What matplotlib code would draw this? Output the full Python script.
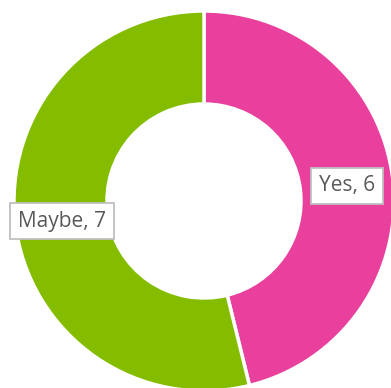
import matplotlib
matplotlib.use("Agg")
import matplotlib.pyplot as plt

categories = ["Yes", "Maybe"]
values = [6, 7]
colors = ["#E8409C", "#84BC00"]

W, H = 391, 388
fig = plt.figure(figsize=(W / 100, H / 100), dpi=100)
ax = fig.add_axes([0, 0, 1, 1])
ax.set_xlim(0, W)
ax.set_ylim(0, H)
ax.set_aspect("equal")
ax.axis("off")

cx, cy, r = 204, H - 201, 190
wedges, _ = ax.pie(values, colors=colors, startangle=90, counterclock=False,
                   center=(cx, cy), radius=r,
                   wedgeprops=dict(width=93, edgecolor="white", linewidth=2.5))
ax.set_xlim(0, W)
ax.set_ylim(0, H)

label_pos = [(347, H - 186), (62, H - 221)]
for cat, val, (x, y) in zip(categories, values, label_pos):
    ax.text(x, y, f"{cat}, {val}", ha="center", va="center", fontsize=15,
            family="Open Sans", color="#595959",
            bbox=dict(boxstyle="square,pad=0.38", fc="white", ec="#BFBFBF", lw=1.3))

fig.savefig("out.png", dpi=100)
